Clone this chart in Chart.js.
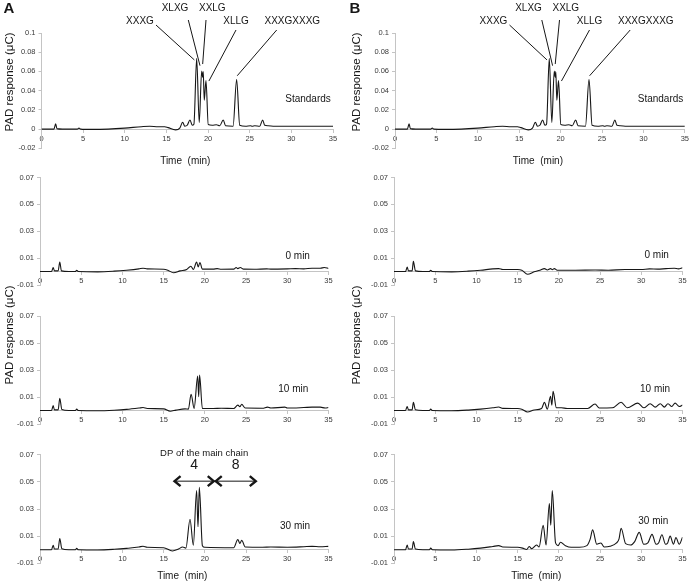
<!DOCTYPE html>
<html>
<head>
<meta charset="utf-8">
<script src="https://cdn.jsdelivr.net/npm/chart.js@4.4.1/dist/chart.umd.min.js"></script>
<style>
html, body { margin: 0; padding: 0; background: #fff; overflow: hidden; width: 691px; height: 581px; position: relative; }
canvas { position: absolute; }
</style>
</head>
<body>
<script>
// ---- data (time in min, PAD response in µC) ----
const timeTicks = [0, 5, 10, 15, 20, 25, 30, 35];
const topTicks = [-0.02, 0, 0.02, 0.04, 0.06, 0.08, 0.1];
const lowTicks = [-0.01, 0.01, 0.03, 0.05, 0.07];

const peakNames = ['XXXG', 'XLXG', 'XXLG', 'XLLG', 'XXXGXXXG'];
const peakTimes = [18.35, 19.03, 19.35, 20.1, 23.5];
const peakTops = [0.072, 0.066, 0.0677, 0.05, 0.0555];

const dpBounds = [16.2, 21.2, 26.3];
const dpLevel = 0.0505;
const dpLabels = ['4', '8'];

const stdTime = [0, 1.5, 1.7, 1.85, 2.5, 4.3, 4.5, 4.7, 6, 8, 10, 12, 13, 14, 14.8, 15.2, 16.1, 16.6, 16.95, 17.2, 17.5, 17.83, 18.1, 18.3, 18.63, 18.94, 19.23, 19.35, 19.42, 19.54, 19.75, 20.02, 20.5, 21, 21.4, 21.82, 22.1, 23, 23.43, 23.8, 24.5, 25.1, 25.3, 25.6, 26.2, 26.55, 26.8, 27.2, 28, 35];
const stdResp = [0, 0, 0.0055, 0.0005, 0, 0, 0.001, 0, -0.0003, 0, 0.001, 0.0025, 0.003, 0.0025, 0.0025, 0.0015, -0.0008, 0.001, 0.0071, 0.003, 0.004, 0.0095, 0.004, 0.005, 0.0736, 0.0068, 0.0603, 0.054, 0.06, 0.03, 0.0506, 0.0047, 0.004, 0.0045, 0.0035, 0.0095, 0.0035, 0.003, 0.0516, 0.004, 0.003, 0.0035, 0.003, 0.0035, 0.003, 0.0095, 0.004, 0.0035, 0.003, 0.003];

const a0Time = [0, 1.4, 1.6, 1.75, 2.2, 2.4, 2.6, 3.5, 4.3, 4.45, 4.65, 7, 9, 10.5, 12, 12.5, 13, 15, 15.5, 16.2, 17, 17.8, 18.3, 18.6, 19, 19.2, 19.4, 19.7, 21, 21.5, 22, 23.5, 23.8, 24, 24.3, 24.7, 26, 27.5, 28, 30, 31, 32, 33, 34, 34.5, 35];
const a0Resp = [0, 0, 0.003, 0.0005, 0.0005, 0.007, 0.0005, 0, 0, 0.001, 0, -0.0002, 0.0003, 0.001, 0.002, 0.0025, 0.002, 0.0017, 0.001, -0.0009, 0.0005, 0.0015, 0.004, 0.0015, 0.007, 0.0035, 0.0068, 0.0018, 0.0018, 0.0022, 0.0017, 0.0018, 0.003, 0.0022, 0.003, 0.0018, 0.0017, 0.002, 0.0018, 0.002, 0.0022, 0.002, 0.0025, 0.0025, 0.003, 0.0023];

const a10Time = [0, 1.4, 1.6, 1.75, 2.2, 2.4, 2.65, 3.5, 4.3, 4.45, 4.65, 7, 9, 10.5, 12, 12.5, 13, 15, 15.8, 16.5, 17.6, 18, 18.33, 18.7, 19.13, 19.25, 19.36, 19.7, 21, 22, 23.5, 24, 24.25, 24.47, 24.9, 27, 27.6, 28, 29.7, 30, 32, 33, 34, 34.6, 35];
const a10Resp = [0, 0, 0.0036, 0.0005, 0.0005, 0.009, 0.0008, 0, 0, 0.001, 0, -0.0002, 0.0002, 0.0008, 0.0018, 0.0022, 0.0015, 0.0012, -0.0005, 0.0003, 0.0012, 0.001, 0.012, 0.0016, 0.0256, 0.0102, 0.0263, 0.0015, 0.0015, 0.0017, 0.0015, 0.004, 0.0028, 0.0046, 0.0018, 0.0017, 0.0025, 0.0018, 0.0025, 0.0018, 0.0022, 0.0025, 0.0025, 0.0018, 0.0022];

const a30Time = [0, 1.4, 1.6, 1.75, 2.2, 2.4, 2.65, 3.5, 4.3, 4.45, 4.65, 7, 9, 10.5, 12, 12.5, 13, 15, 16.06, 16.8, 17.3, 17.7, 18.2, 18.6, 19, 19.17, 19.33, 19.7, 20, 23.5, 24, 24.25, 24.47, 24.9, 27, 28, 30, 32, 33, 34, 35];
const a30Resp = [0, 0, 0.0033, 0.0005, 0.0005, 0.0083, 0.0008, 0, 0, 0.001, 0, -0.0002, 0.0003, 0.001, 0.002, 0.0026, 0.0018, 0.0015, -0.0009, 0.0005, 0.002, 0.0012, 0.0224, 0.0033, 0.0436, 0.0169, 0.046, 0.003, 0.0018, 0.0015, 0.0075, 0.0046, 0.007, 0.002, 0.0018, 0.002, 0.0018, 0.0022, 0.0025, 0.0022, 0.0025];

const b0Time = [0, 1.4, 1.6, 1.75, 2.2, 2.35, 2.6, 3.5, 4.3, 4.45, 4.65, 7, 9, 10.5, 12, 12.7, 13.2, 15, 15.5, 16.2, 17, 17.7, 18.25, 18.6, 19, 19.2, 19.45, 19.8, 22, 24.4, 26, 28, 30, 31, 32, 33, 34, 34.5, 35];
const b0Resp = [0, 0, 0.0034, 0.0005, 0.0005, 0.0076, 0.0005, 0, 0, 0.001, 0, -0.0002, 0.0003, 0.001, 0.002, 0.0022, 0.0015, 0.0015, 0.001, -0.002, -0.0002, 0.001, 0.0022, 0.0012, 0.0022, 0.0013, 0.0022, 0.001, 0.001, 0.0012, 0.001, 0.0015, 0.0015, 0.002, 0.0018, 0.0022, 0.0025, 0.002, 0.0028];

const b10Time = [0, 1.4, 1.6, 1.75, 2.2, 2.35, 2.6, 3.5, 4.3, 4.45, 4.65, 7, 9, 10.5, 12, 12.7, 13.2, 15, 15.5, 16.2, 17, 17.9, 18.25, 18.6, 18.99, 19.15, 19.3, 19.7, 20.3, 21, 23.5, 24.39, 24.9, 26.5, 27.55, 28.3, 29.58, 30.3, 31.08, 31.7, 32.3, 32.8, 33.24, 33.7, 34.1, 34.6, 35];
const b10Resp = [0, 0, 0.003, 0.0005, 0.0005, 0.006, 0.0005, 0, 0, 0.001, 0, -0.0002, 0.0003, 0.001, 0.002, 0.0026, 0.0016, 0.0015, 0.001, -0.0011, 0.0004, 0.0015, 0.006, 0.001, 0.0105, 0.004, 0.0142, 0.002, 0.002, 0.0015, 0.0015, 0.0048, 0.0018, 0.002, 0.0061, 0.002, 0.0055, 0.002, 0.005, 0.0025, 0.005, 0.0025, 0.005, 0.003, 0.0055, 0.003, 0.004];

const b30Time = [0, 1.4, 1.6, 1.75, 2.2, 2.35, 2.6, 3.5, 4.3, 4.45, 4.65, 7, 9, 10.5, 12, 12.7, 13.2, 15, 15.6, 16.1, 16.4, 16.7, 17.3, 17.6, 18.1, 18.45, 18.85, 19.02, 19.2, 19.6, 19.9, 20.2, 20.8, 21.5, 22.5, 23.4, 23.8, 24.1, 24.6, 25.1, 25.5, 26.2, 27, 27.3, 27.55, 28.1, 28.7, 29.2, 29.75, 30.3, 30.8, 31.3, 31.8, 32.1, 32.5, 32.95, 33.2, 33.5, 33.9, 34.2, 34.6, 35];
const b30Resp = [0, 0, 0.0035, 0.0005, 0.0005, 0.006, 0.0005, 0, 0, 0.0012, 0, -0.0002, 0.0004, 0.0012, 0.0024, 0.003, 0.002, 0.0018, 0.0012, 0.0002, 0.0024, 0.0008, 0.0035, 0.002, 0.018, 0.0035, 0.034, 0.018, 0.0435, 0.005, 0.003, 0.0055, 0.003, 0.0018, 0.0018, 0.003, 0.0078, 0.0146, 0.004, 0.005, 0.002, 0.0025, 0.005, 0.008, 0.0158, 0.0045, 0.0035, 0.006, 0.0128, 0.004, 0.005, 0.0113, 0.004, 0.005, 0.011, 0.004, 0.005, 0.01, 0.004, 0.009, 0.004, 0.0092];

// ---- look ----
const FONT = '"Liberation Sans", Arial, Helvetica, sans-serif';
const AXIS = '#c4c4c4';
const TICK = '#3a3a3a';
const INK = '#161616';

// all extra text/arrows drawn on top of each panel
const extras = {
    id: 'extras',
    afterDraw(chart, args, o) {
        const ctx = chart.ctx;
        const xs = chart.scales.x, ys = chart.scales.y, area = chart.chartArea;
        const t = o.top;
        ctx.save();
        ctx.fillStyle = INK;
        ctx.strokeStyle = INK;
        ctx.textAlign = 'center';
        ctx.textBaseline = 'middle';

        if (o.letter) {
            ctx.font = 'bold 15px ' + FONT;
            ctx.fillText(o.letter, o.letterX, 9 - t);
        }
        if (o.yTitleY) {
            ctx.save();
            ctx.font = '11.5px ' + FONT;
            ctx.translate(o.yTitleX, o.yTitleY - t);
            ctx.rotate(-Math.PI / 2);
            ctx.fillText('PAD response (\u03bcC)', 0, 0);
            ctx.restore();
        }
        if (o.xTitleY) {
            ctx.font = '10px ' + FONT;
            ctx.fillText('Time  (min)', (area.left + area.right) / 2 - 2, o.xTitleY - t);
        }
        ctx.font = '10px ' + FONT;
        ctx.fillText(o.tag, area.right + o.tagDx, o.tagY - t);

        if (o.peaks) {
            const labDx = [98.5, 133.5, 170.8, 194.5, 250.8];
            const labY = [21, 8, 8, 21, 21];
            const startDx = [114.5, 146.8, 164.5, 194.5, 235.2];
            const startY = [25, 20, 20, 30, 30];
            ctx.lineWidth = 1;
            peakNames.forEach((name, i) => {
                ctx.fillText(name, area.left + labDx[i], labY[i] - t);
                ctx.beginPath();
                ctx.moveTo(area.left + startDx[i], startY[i] - t);
                ctx.lineTo(xs.getPixelForValue(peakTimes[i]), ys.getPixelForValue(peakTops[i]));
                ctx.stroke();
            });
        }

        if (o.dp) {
            const yy = ys.getPixelForValue(dpLevel);
            const px = dpBounds.map(v => xs.getPixelForValue(v));
            ctx.font = '9.5px ' + FONT;
            ctx.fillText('DP of the main chain', (px[0] + px[2]) / 2 - 11, yy - 28);
            ctx.font = '14px ' + FONT;
            dpLabels.forEach((lab, i) => ctx.fillText(lab, (px[i] + px[i + 1]) / 2, yy - 16));
            ctx.lineWidth = 1;
            ctx.beginPath();
            ctx.moveTo(px[0] + 1, yy);
            ctx.lineTo(px[2] - 1, yy);
            ctx.stroke();
            ctx.lineWidth = 2.4;
            ctx.lineJoin = 'miter';
            const head = (x, dir) => {
                ctx.beginPath();
                ctx.moveTo(x + dir * 7, yy - 5);
                ctx.lineTo(x + dir * 1, yy);
                ctx.lineTo(x + dir * 7, yy + 5);
                ctx.stroke();
            };
            head(px[0], 1);
            head(px[1], -1);
            head(px[1], 1);
            head(px[2], -1);
        }
        ctx.restore();
    }
};

function toPoints(times, resp) {
    return times.map((x, i) => ({ x: x, y: resp[i] }));
}

function makePanel(p) {
    const canvas = document.createElement('canvas');
    canvas.width = p.w;
    canvas.height = p.h;
    canvas.style.left = p.left + 'px';
    canvas.style.top = p.top + 'px';
    document.body.appendChild(canvas);

    new Chart(canvas.getContext('2d'), {
        type: 'line',
        data: {
            datasets: [{
                data: toPoints(p.times, p.resp),
                borderColor: INK,
                borderWidth: 1.1,
                pointRadius: 0,
                cubicInterpolationMode: 'monotone',
                fill: false
            }]
        },
        options: {
            responsive: false,
            animation: false,
            events: [],
            layout: { padding: { left: 0, right: p.padR, top: p.padT, bottom: p.padB } },
            plugins: {
                legend: { display: false },
                tooltip: { enabled: false },
                extras: p.extras
            },
            scales: {
                x: {
                    type: 'linear',
                    min: 0,
                    max: 35,
                    position: { y: 0 },
                    afterBuildTicks: s => { s.ticks = timeTicks.map(v => ({ value: v })); },
                    ticks: { autoSkip: false, maxRotation: 0, padding: 2, color: TICK, font: { family: FONT, size: 7.5 } },
                    grid: { drawOnChartArea: false, tickLength: 3, color: AXIS },
                    border: { color: AXIS }
                },
                y: {
                    type: 'linear',
                    min: p.yTicks[0],
                    max: p.yTicks[p.yTicks.length - 1],
                    afterFit: s => { s.width = p.yw; },
                    afterBuildTicks: s => { s.ticks = p.yTicks.map(v => ({ value: v })); },
                    ticks: {
                        padding: 3, color: TICK, font: { family: FONT, size: 7.5 },
                        callback: v => String(+v.toFixed(2))
                    },
                    grid: { drawOnChartArea: false, tickLength: 3, color: AXIS },
                    border: { color: AXIS }
                }
            }
        },
        plugins: [extras]
    });
}

// rows: canvas top/height and paddings so the plot areas land where they should
const rows = [
    { top: 0, h: 175, padT: 33, padB: 26.7, yTicks: topTicks },
    { top: 170, h: 125, padT: 7.5, padB: 10, yTicks: lowTicks },
    { top: 280, h: 160, padT: 36, padB: 16, yTicks: lowTicks },
    { top: 440, h: 141, padT: 14.7, padB: 17.7, yTicks: lowTicks }
];

const colA = [
    { times: stdTime, resp: stdResp, yw: 41.5, padR: 12, extras: { letter: 'A', letterX: 9, yTitleX: 10, yTitleY: 82, xTitleY: 161, tag: 'Standards', tagDx: -25, tagY: 99.3, peaks: true } },
    { times: a0Time, resp: a0Resp, yw: 40, padR: 16.5, extras: { tag: '0 min', tagDx: -30.8, tagY: 256.7 } },
    { times: a10Time, resp: a10Resp, yw: 40, padR: 16.5, extras: { yTitleX: 10, yTitleY: 335, tag: '10 min', tagDx: -35.2, tagY: 389.3 } },
    { times: a30Time, resp: a30Resp, yw: 40, padR: 16.5, extras: { xTitleY: 576, tag: '30 min', tagDx: -33.5, tagY: 526.7, dp: true } }
];

const colB = [
    { times: stdTime, resp: stdResp, yw: 50, padR: 5, extras: { letter: 'B', letterX: 10, yTitleX: 12, yTitleY: 82, xTitleY: 161, tag: 'Standards', tagDx: -24.3, tagY: 99, peaks: true } },
    { times: b0Time, resp: b0Resp, yw: 49, padR: 8.5, extras: { tag: '0 min', tagDx: -25.8, tagY: 255 } },
    { times: b10Time, resp: b10Resp, yw: 49, padR: 8.5, extras: { yTitleX: 12, yTitleY: 335, tag: '10 min', tagDx: -27.5, tagY: 389 } },
    { times: b30Time, resp: b30Resp, yw: 49, padR: 8.5, extras: { xTitleY: 576, tag: '30 min', tagDx: -29.2, tagY: 521 } }
];

rows.forEach((r, i) => {
    [[colA[i], 0, 345], [colB[i], 345, 346]].forEach(([c, left, w]) => {
        c.extras.top = r.top;
        makePanel({
            left: left, w: w, top: r.top, h: r.h,
            padT: r.padT, padB: r.padB, padR: c.padR,
            yTicks: r.yTicks, yw: c.yw,
            times: c.times, resp: c.resp, extras: c.extras
        });
    });
});
</script>
</body>
</html>
